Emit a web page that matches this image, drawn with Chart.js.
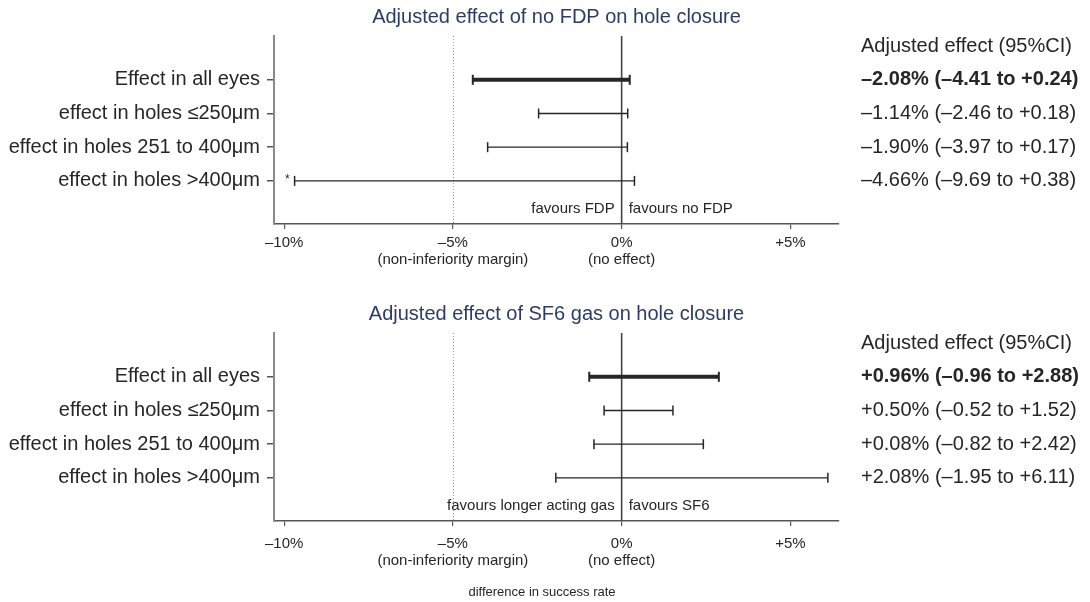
<!DOCTYPE html>
<html>
<head>
<meta charset="utf-8">
<script src="https://cdn.jsdelivr.net/npm/chart.js@4/dist/chart.umd.min.js"></script>
<style>
  html, body { margin: 0; padding: 0; background: #fff; }
  .panel { position: relative; width: 1090px; }
  #p1 { height: 297px; }
  #p2 { height: 305px; }
</style>
</head>
<body>
<div class="panel" id="p1"><canvas id="c1"></canvas></div>
<div class="panel" id="p2"><canvas id="c2"></canvas></div>
<script>
// ---- data ----
const rowLabels = [
  'Effect in all eyes',
  'effect in holes \u2264250\u03bcm',
  'effect in holes 251 to 400\u03bcm',
  'effect in holes >400\u03bcm'
];
const xTickValues = [-10, -5, 0, 5];
const xTickText = ['\u201310%', '\u20135%', '0%', '+5%'];
const xTickNotes = ['', '(non-inferiority margin)', '(no effect)', ''];
const marginValue = -5;

const fdpEffect = [-2.08, -1.14, -1.90, -4.66];
const fdpLower  = [-4.41, -2.46, -3.97, -9.69];
const fdpUpper  = [ 0.24,  0.18,  0.17,  0.38];
const fdpFlags  = ['', '', '', '*'];

const sf6Effect = [0.96, 0.50, 0.08, 2.08];
const sf6Lower  = [-0.96, -0.52, -0.82, -1.95];
const sf6Upper  = [ 2.88,  1.52,  2.42,  6.11];
const sf6Flags  = ['', '', '', ''];

// ---- styling ----
const FONT = '"Liberation Sans", Arial, Helvetica, sans-serif';
const INK = '#262626';
const TITLE_INK = '#2b3d66';

const signed = v => (v < 0 ? '\u2013' : '+') + Math.abs(v).toFixed(2);
const effectText = (e, l, u) => `${signed(e)}% (${signed(l)} to ${signed(u)})`;

// Reference lines, titles, favour labels and the estimate column
const forestDecor = {
  id: 'forestDecor',
  beforeDatasetsDraw(chart, args, o) {
    const { ctx, chartArea: a, scales: { x } } = chart;
    ctx.save();
    // non-inferiority margin
    const xm = Math.round(x.getPixelForValue(marginValue)) + 0.5;
    ctx.strokeStyle = '#9a9a9a';
    ctx.lineWidth = 1;
    ctx.setLineDash([1, 2]);
    ctx.beginPath(); ctx.moveTo(xm, a.top); ctx.lineTo(xm, a.bottom); ctx.stroke();
    // no-effect line
    ctx.setLineDash([]);
    const x0 = x.getPixelForValue(0);
    ctx.strokeStyle = '#444';
    ctx.lineWidth = 1.6;
    ctx.beginPath(); ctx.moveTo(x0, a.top); ctx.lineTo(x0, a.bottom); ctx.stroke();
    ctx.restore();
  },
  afterDraw(chart, args, o) {
    const { ctx, chartArea: a, scales: { x, y } } = chart;
    ctx.save();
    ctx.textBaseline = 'middle';
    // panel title
    ctx.fillStyle = TITLE_INK;
    ctx.font = `20px ${FONT}`;
    ctx.textAlign = 'center';
    ctx.fillText(o.title, (a.left + a.right) / 2, 17.5);
    // favour labels either side of zero
    const x0 = x.getPixelForValue(0);
    ctx.fillStyle = INK;
    ctx.font = `15px ${FONT}`;
    const fy = a.bottom - 15;
    ctx.textAlign = 'right';
    ctx.fillText(o.favoursLeft, x0 - 7, fy);
    ctx.textAlign = 'left';
    ctx.fillText(o.favoursRight, x0 + 7, fy);
    // flags before the interval
    ctx.font = `12px ${FONT}`;
    ctx.textAlign = 'right';
    o.flags.forEach((f, i) => {
      if (f) ctx.fillText(f, x.getPixelForValue(o.lower[i]) - 5, y.getPixelForValue(i + 1) - 1);
    });
    // shared axis caption under the lower panel
    if (o.axisTitle) {
      ctx.font = `13px ${FONT}`;
      ctx.textAlign = 'center';
      ctx.fillText(o.axisTitle, 542, chart.height - 10);
    }
    // estimate column
    const tx = 861;
    ctx.textAlign = 'left';
    ctx.font = `20px ${FONT}`;
    ctx.fillText('Adjusted effect (95%CI)', tx, y.getPixelForValue(0));
    o.effect.forEach((e, i) => {
      ctx.font = (i === 0 ? 'bold ' : '') + `20px ${FONT}`;
      ctx.fillText(effectText(e, o.lower[i], o.upper[i]), tx, y.getPixelForValue(i + 1));
    });
    ctx.restore();
  }
};

function intervalSets(lower, upper) {
  return lower.map((lo, i) => ({
    data: [{ x: lo, y: i + 1 }, { x: upper[i], y: i + 1 }],
    showLine: true,
    borderColor: '#262626',
    borderWidth: i === 0 ? 4 : 1.3,
    pointStyle: 'line',
    rotation: 90,
    pointRadius: 5,
    pointHoverRadius: 5,
    pointBorderColor: '#262626',
    pointBorderWidth: i === 0 ? 2 : 1.5
  }));
}

function makeChart(id, cfg) {
  return new Chart(document.getElementById(id), {
    type: 'scatter',
    data: { datasets: intervalSets(cfg.lower, cfg.upper) },
    plugins: [forestDecor],
    options: {
      responsive: true,
      maintainAspectRatio: false,
      animation: false,
      events: [],
      layout: { padding: { top: 36, right: 251, bottom: cfg.padBottom, left: 0 } },
      plugins: {
        legend: { display: false },
        tooltip: { enabled: false },
        forestDecor: cfg
      },
      scales: {
        x: {
          type: 'linear',
          min: -10.3,
          max: 6.44,
          afterBuildTicks: s => { s.ticks = xTickValues.map(v => ({ value: v })); },
          afterFit: s => { s.height = cfg.axisHeight; },
          ticks: {
            autoSkip: false,
            maxRotation: 0,
            padding: cfg.tickPad,
            color: INK,
            font: { family: FONT, size: 15, lineHeight: 1.15 },
            callback: v => {
              const i = xTickValues.indexOf(v);
              return xTickNotes[i] ? [xTickText[i], xTickNotes[i]] : xTickText[i];
            }
          },
          grid: { drawOnChartArea: false, tickLength: 5, color: '#555', lineWidth: 1.2 },
          border: { color: '#555', width: 1.5 }
        },
        y: {
          type: 'linear',
          reverse: true,
          min: -0.3,
          max: 5.28,
          afterBuildTicks: s => { s.ticks = rowLabels.map((_, i) => ({ value: i + 1 })); },
          afterFit: s => { s.width = 274; },
          ticks: {
            padding: 7,
            color: INK,
            font: { family: FONT, size: 20 },
            callback: v => rowLabels[v - 1]
          },
          grid: { drawOnChartArea: false, tickLength: 7, color: '#555', lineWidth: 1.5 },
          border: { color: '#8a8a8a', width: 2 }
        }
      }
    }
  });
}

makeChart('c1', {
  title: 'Adjusted effect of no FDP on hole closure',
  favoursLeft: 'favours FDP',
  favoursRight: 'favours no FDP',
  effect: fdpEffect, lower: fdpLower, upper: fdpUpper, flags: fdpFlags,
  axisHeight: 60, padBottom: 13, tickPad: 5
});

makeChart('c2', {
  title: 'Adjusted effect of SF6 gas on hole closure',
  favoursLeft: 'favours longer acting gas',
  favoursRight: 'favours SF6',
  effect: sf6Effect, lower: sf6Lower, upper: sf6Upper, flags: sf6Flags,
  axisHeight: 79, padBottom: 2, tickPad: 9,
  axisTitle: 'difference in success rate'
});
</script>
</body>
</html>
